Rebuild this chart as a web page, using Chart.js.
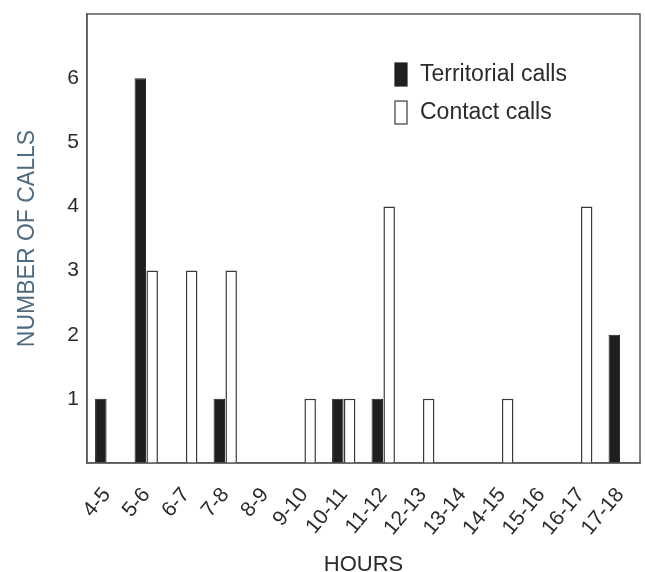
<!DOCTYPE html>
<html>
<head>
<meta charset="utf-8">
<script src="https://cdn.jsdelivr.net/npm/chart.js@4.4.0/dist/chart.umd.min.js"></script>
<style>
  body { margin: 0; background: #fff; }
  #wrap { width: 645px; height: 572px; }
</style>
</head>
<body>
<div id="wrap"><canvas id="chart" width="645" height="572"></canvas></div>
<script>
// hour intervals on the x axis
const hours = ["4-5", "5-6", "6-7", "7-8", "8-9", "9-10", "10-11", "11-12",
  "12-13", "13-14", "14-15", "15-16", "16-17", "17-18"];

// number of calls per hour (null = no bar)
const territorialCalls = [1, 6, null, 1, null, null, 1, 1, null, null, null, null, null, 2];
const contactCalls = [null, 3, 3, 3, null, 1, 1, 4, 1, null, 1, null, 4, null];

const yTicks = [1, 2, 3, 4, 5, 6];

const FONT = "'Liberation Sans', Arial, sans-serif";
const TEXT = "#2b2b2b";

// box around the plot + legend inside it (top right)
const boxAndLegend = {
  id: "boxAndLegend",
  afterDraw(chart) {
    const { ctx, chartArea: a } = chart;
    ctx.save();
    ctx.strokeStyle = "#5a5a5a";
    ctx.lineWidth = 1.5;
    ctx.strokeRect(a.left, a.top, a.right - a.left, a.bottom - a.top);

    ctx.font = "23px " + FONT;
    ctx.textBaseline = "middle";
    ctx.textAlign = "left";
    const x0 = a.left + 308;
    chart.data.datasets.forEach((ds, i) => {
      const y = a.top + 61 + i * 38;
      ctx.fillStyle = ds.backgroundColor;
      ctx.strokeStyle = ds.borderColor;
      ctx.lineWidth = 1.2;
      ctx.fillRect(x0, y - 12, 12, 23);
      ctx.strokeRect(x0, y - 12, 12, 23);
      ctx.fillStyle = TEXT;
      ctx.fillText(ds.label, x0 + 25, y);
    });
    ctx.restore();
  },
};

const ctx = document.getElementById("chart").getContext("2d");
new Chart(ctx, {
  type: "bar",
  data: {
    labels: hours,
    datasets: [
      {
        label: "Territorial calls",
        data: territorialCalls,
        backgroundColor: "#1f1f1f",
        borderColor: "#1f1f1f",
        borderWidth: 1,
      },
      {
        label: "Contact calls",
        data: contactCalls,
        backgroundColor: "#ffffff",
        borderColor: "#3a3a3a",
        borderWidth: 1.5,
      },
    ],
  },
  options: {
    responsive: false,
    animation: false,
    layout: { padding: { top: 14, right: 5, left: 0, bottom: 0 } },
    categoryPercentage: 0.6,
    barPercentage: 0.97,
    scales: {
      x: {
        grid: { display: false, drawTicks: false },
        border: { display: true, color: "#5a5a5a", width: 1.5 },
        ticks: {
          color: TEXT,
          font: { family: FONT, size: 21 },
          maxRotation: 50,
          minRotation: 50,
          padding: 20,
          autoSkip: false,
        },
        title: {
          display: true,
          text: "HOURS",
          color: TEXT,
          font: { family: FONT, size: 22 },
          padding: { top: 0, bottom: -6 },
        },
        afterFit(scale) {
          scale.height = 109;
          scale.paddingLeft = 0;
          scale.paddingRight = 0;
        },
      },
      y: {
        min: 0,
        max: 7,
        grid: { display: false, drawTicks: false },
        border: { display: true, color: "#5a5a5a", width: 1.5 },
        ticks: {
          stepSize: 1,
          color: TEXT,
          font: { family: FONT, size: 21 },
          padding: 8,
          callback: (v) => (yTicks.includes(v) ? v : ""),
        },
        title: {
          display: true,
          text: "NUMBER OF CALLS",
          color: "#4d6a80",
          font: { family: FONT, size: 23 },
          padding: { top: 14, bottom: 0 },
        },
        afterFit(scale) {
          scale.width = 87;
          scale.paddingTop = 0;
          scale.paddingBottom = 0;
        },
      },
    },
    plugins: {
      legend: { display: false },
      tooltip: { enabled: false },
    },
  },
  plugins: [boxAndLegend],
});
</script>
</body>
</html>
